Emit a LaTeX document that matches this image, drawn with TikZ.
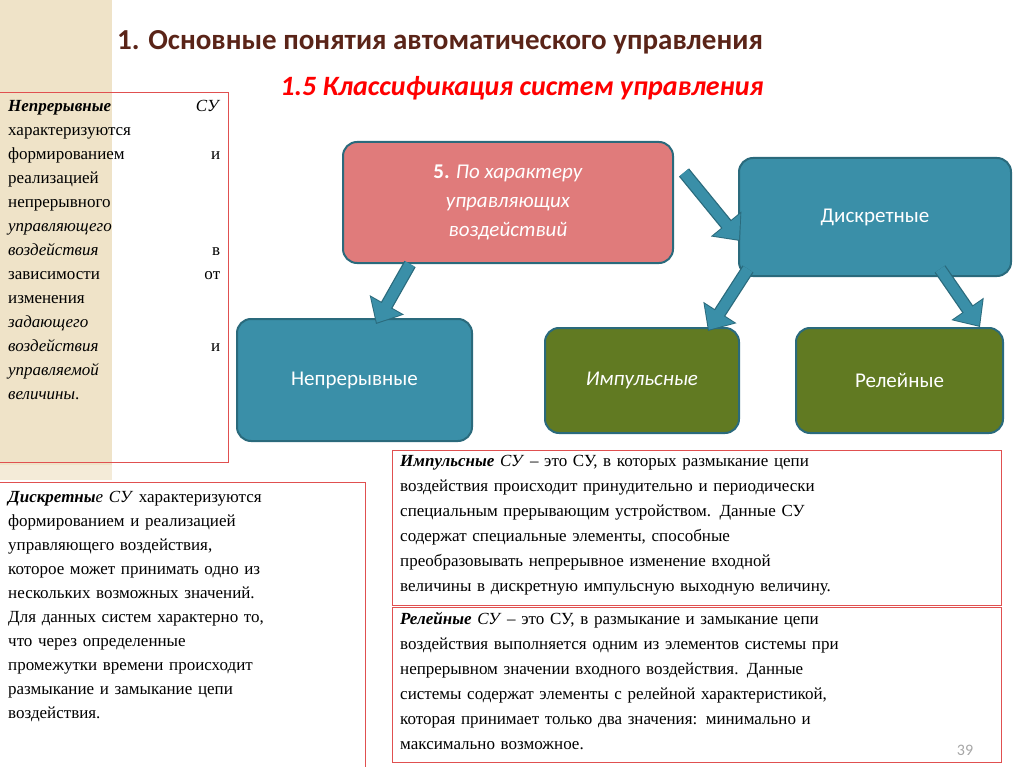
\documentclass[tikz,border=0pt]{standalone}
\usepackage{fontspec}
\setmainfont{Liberation Serif}
\newfontfamily\calfont{Carlito}
\usetikzlibrary{arrows.meta,calc}
\definecolor{teal1}{HTML}{3A8FA8}
\definecolor{tealb}{HTML}{2A6A7C}
\definecolor{pinkf}{HTML}{E07B7B}
\definecolor{greenf}{HTML}{617A22}
\definecolor{brownt}{HTML}{5A2418}
\definecolor{redl}{HTML}{E05050}
\definecolor{beige}{HTML}{EFE3C8}
\tikzset{
 box/.style={draw=tealb,line width=2pt,rounded corners=14pt,text=white,align=center,font=\calfont\fontsize{21}{29}\selectfont,anchor=north west},
 tb/.style={anchor=north west,inner sep=0pt,font=\fontsize{17}{24}\selectfont},
 frame/.style={draw=redl,line width=0.8pt}
}
\newcommand\blkarrow[2]{%
 \path (#1) coordinate (A) (#2) coordinate (B);
 \draw[line width=13pt,tealb,-{Triangle[width=38pt,length=22pt]}] (A) -- (B);
 \draw[line width=10.5pt,teal1,shorten >=1.5pt,-{Triangle[width=34pt,length=19.5pt]}] (A) -- (B);}
\begin{document}
\begin{tikzpicture}[x=1pt,y=-1pt]
\useasboundingbox (0,0) rectangle (1024,767);
\fill[beige] (0,0) rectangle (112,465);
\fill[beige!70] (0,465) rectangle (112,480);
\node[font=\calfont\bfseries\fontsize{29}{34}\selectfont,text=brownt] (title) at (440,42) {1. Основные понятия автоматического управления};
\node[font=\calfont\bfseries\itshape\fontsize{28}{34}\selectfont,text=red] (sub) at (522,88) {1.5 Классификация систем управления};
\draw[frame] (0,92) -- (228,92) -- (228,462) -- (0,462);
\draw[frame] (0,482) -- (365,482) -- (365,767);
\draw[frame] (392,450) rectangle (1001,605);
\draw[frame] (392,607) rectangle (1001,762);
\node[box,fill=pinkf,minimum width=330pt,minimum height=121pt] (p) at (342,141) {\textbf{5.} \textit{По характеру}\\\textit{управляющих}\\\textit{воздействий}};
\node[box,fill=teal1,minimum width=272pt,minimum height=118pt] (d) at (738,157) {Дискретные};
\node[box,fill=teal1,minimum width=235pt,minimum height=122pt] (n) at (236,318) {Непрерывные};
\node[box,fill=greenf,minimum width=194pt,minimum height=105pt] (i) at (544,327) {\textit{Импульсные}};
\node[box,fill=greenf,minimum width=207pt,minimum height=105pt] (r) at (795,327) {Релейные};
\blkarrow{$(p.south west)+(68,0)$}{$(n.north west)+(140,6)$}
\blkarrow{$(p.east)+(10,-30)$}{$(d.west)+(2,24)$}
\blkarrow{$(d.south west)+(10,-8)$}{$(i.north east)+(-32,4)$}
\blkarrow{$(d.south east)+(-72,-8)$}{$(r.north east)+(-24,0)$}
\node[tb,text width=212pt] (t1) at (8,100) {\textbf{\textit{Непрерывные}} \hfill \textit{СУ}\linebreak характеризуются\\ формированием \hfill и\linebreak реализацией\\ непрерывного\\ \textit{управляющего}\\ \textit{воздействия} \hfill в\linebreak зависимости \hfill от\linebreak изменения\\ \textit{задающего}\\ \textit{воздействия} \hfill и\linebreak \textit{управляемой}\\ \textit{величины}.};
\node[tb,text width=349pt] (t2) at (8,491) {\textbf{\textit{Дискретны}}\textit{е СУ} характеризуются\linebreak формированием и реализацией\linebreak управляющего воздействия,\linebreak которое может принимать одно из\linebreak нескольких возможных значений.\linebreak Для данных систем характерно то,\linebreak что через определенные\linebreak промежутки времени происходит\linebreak размыкание и замыкание цепи\linebreak воздействия.};
\node[tb,text width=592pt,font=\fontsize{17}{25}\selectfont] (t3) at (400,455) {\textbf{\textit{Импульсные}} \textit{СУ} -- это СУ, в которых размыкание цепи\linebreak воздействия происходит принудительно и периодически\linebreak специальным прерывающим устройством. Данные СУ\linebreak содержат специальные элементы, способные\linebreak преобразовывать непрерывное изменение входной\linebreak величины в дискретную импульсную выходную величину.};
\node[tb,text width=592pt,font=\fontsize{17}{25}\selectfont] (t4) at (400,612) {\textbf{\textit{Релейные}} \textit{СУ} -- это СУ, в размыкание и замыкание цепи\linebreak воздействия выполняется одним из элементов системы при\linebreak непрерывном значении входного воздействия. Данные\linebreak системы содержат элементы с релейной характеристикой,\linebreak которая принимает только два значения: минимально и\linebreak максимально возможное.};
\node[font=\calfont\fontsize{16}{18}\selectfont,text=gray!70] (pg) at (965,750) {39};
\end{tikzpicture}
\end{document}
